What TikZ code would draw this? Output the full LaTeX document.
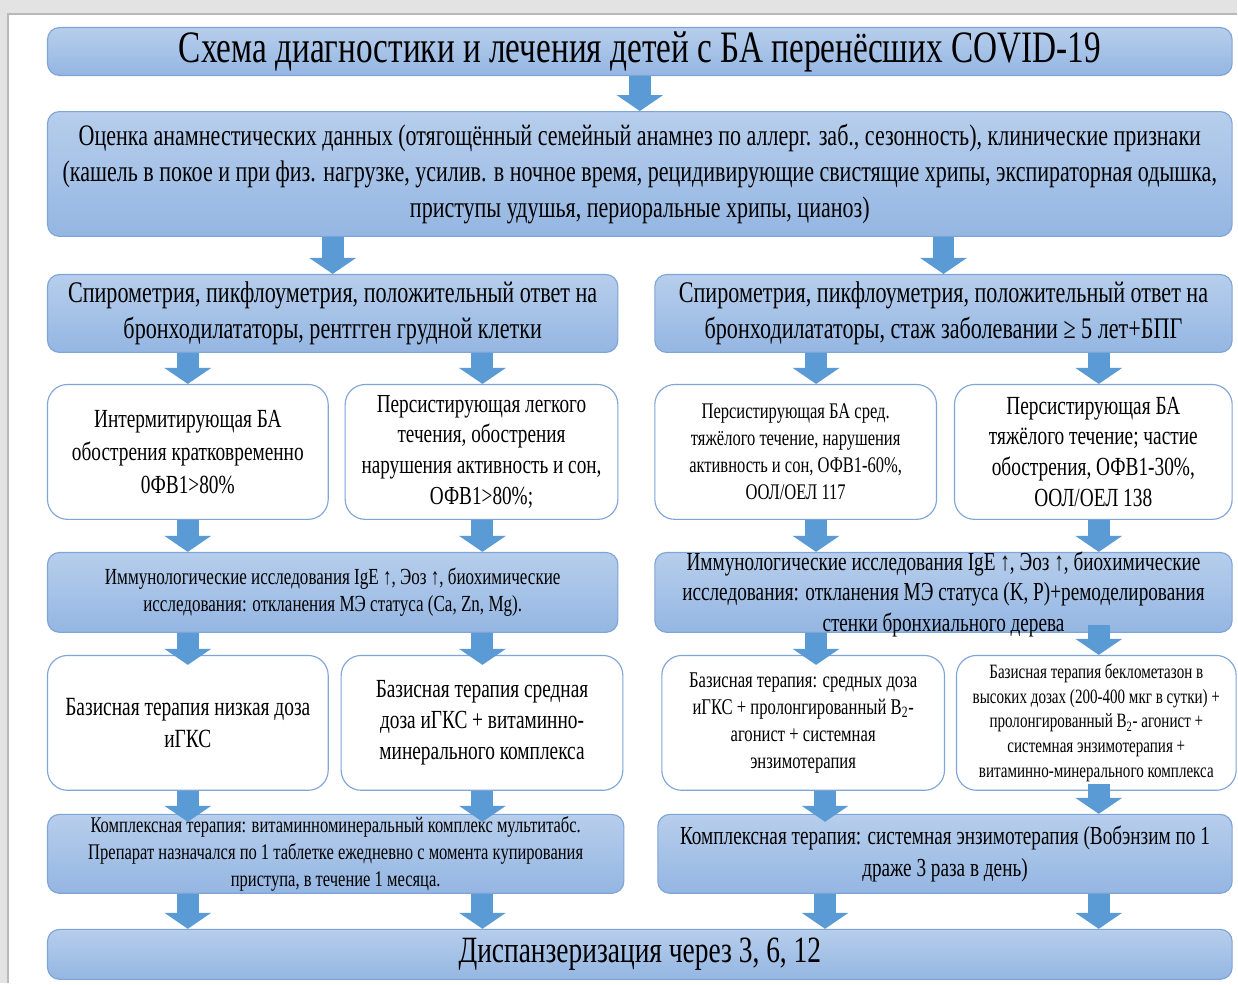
\documentclass[tikz,border=0pt]{standalone}
\usepackage{fontspec}
\setmainfont{Liberation Serif}[FakeStretch=0.74]
\usetikzlibrary{positioning,arrows.meta}

\definecolor{boxtop}{HTML}{B7CEEC}
\definecolor{boxbot}{HTML}{94B6E2}
\definecolor{boxline}{HTML}{7FA4D7}
\definecolor{arrowblue}{HTML}{5B9BD5}
\newcommand{\fsz}[2]{\fontsize{#1}{#2}\selectfont}

\begin{document}
\begin{tikzpicture}[
bluebox/.style={rectangle, draw=boxline, line width=0.8pt, top color=boxtop, bottom color=boxbot, rounded corners=0.3cm, align=center, inner sep=0pt},
whitebox/.style={rectangle, draw=boxline, line width=0.8pt, fill=white, rounded corners=0.5cm, align=center, inner sep=0pt},
blockarrow/.style={draw=arrowblue, line width=0.55cm, -{Triangle[width=1.15cm, length=0.4cm]}}
]
% page and its shadow
\fill[gray!22] (0,0) rectangle (30.95,-24.6);
\fill[white] (0.2,-0.35) rectangle (30.95,-24.6);
\draw[gray!55, line width=2pt] (0.2,-24.6) -- (0.2,-0.35) -- (30.95,-0.35);
\useasboundingbox (0,0) rectangle (30.95,-24.6);

% columns of the arrows
\coordinate (colA) at (4.7,0);
\coordinate (colB) at (12.075,0);
\coordinate (colC) at (20.425,0);
\coordinate (colD) at (20.65,0);
\coordinate (colE) at (27.5,0);

\node[bluebox, anchor=north west, minimum width=29.65cm, minimum height=1.2cm, font=\fsz{32}{36}] (title) at (1.175,-0.675) {Схема диагностики и лечения детей с БА перенёсших COVID-19};
\node[bluebox, minimum width=29.65cm, minimum height=3.125cm, font=\fsz{21.2}{25.6}] (anamnez) [below=0.875cm of title] {Оценка анамнестических данных (отягощённый семейный анамнез по аллерг. заб., сезонность), клинические признаки\\(кашель в покое и при физ. нагрузке, усилив. в ночное время, рецидивирующие свистящие хрипы, экспираторная одышка,\\приступы удушья, периоральные хрипы, цианоз)};

\node[bluebox, minimum width=14.275cm, minimum height=1.95cm, font=\fsz{21.3}{25.6}] (spiroL) [below=0.925cm of anamnez.south west, anchor=north west] {Спирометрия, пикфлоуметрия, положительный ответ на\\бронходилататоры, рентгген грудной клетки};
\node[bluebox, minimum width=14.45cm, minimum height=1.95cm, font=\fsz{21.3}{25.6}] (spiroR) [below=0.925cm of anamnez.south east, anchor=north east] {Спирометрия, пикфлоуметрия, положительный ответ на\\бронходилататоры, стаж заболевании ≥ 5 лет+БПГ};

\node[whitebox, minimum width=7.025cm, minimum height=3.375cm, font=\fsz{18.6}{23.5}] (intL) [below=0.775cm of spiroL.south west, anchor=north west] {Интермитирующая БА\\обострения кратковременно\\0ФВ1>80\%};
\node[whitebox, minimum width=6.825cm, minimum height=3.375cm, font=\fsz{18.5}{22}] (perL) [below=0.775cm of spiroL.south east, anchor=north east] {Персистирующая легкого\\течения, обострения\\нарушения активность и сон,\\ОФВ1>80\%;};
\node[whitebox, minimum width=7.05cm, minimum height=3.375cm, font=\fsz{15.9}{19.2}] (perR1) [below=0.775cm of spiroR.south west, anchor=north west] {Персистирующая БА сред.\\тяжёлого течение, нарушения\\активность и сон, ОФВ1-60\%,\\ООЛ/ОЕЛ 117};
\node[whitebox, minimum width=6.95cm, minimum height=3.375cm, font=\fsz{18.6}{22}] (perR2) [below=0.775cm of spiroR.south east, anchor=north east] {Персистирующая БА\\тяжёлого течение; частие\\обострения, ОФВ1-30\%,\\ООЛ/ОЕЛ 138};

\node[bluebox, minimum width=14.275cm, minimum height=2cm, font=\fsz{16.4}{19.2}] (immL) [below=0.8cm of intL.south west, anchor=north west] {Иммунологические исследования IgE ↑, Эоз ↑, биохимические\\исследования: откланения МЭ статуса (Ca, Zn, Mg).};
\node[bluebox, minimum width=14.45cm, minimum height=2cm] (immR) [below=0.8cm of perR2.south east, anchor=north east] {};
\node[font=\fsz{18.5}{22}, align=center, inner sep=0pt] (immRtext) [yshift=-0.05cm] at (immR) {Иммунологические исследования IgE ↑, Эоз ↑, биохимические\\исследования: откланения МЭ статуса (K, P)+ремоделирования\\стенки бронхиального дерева};

\node[whitebox, minimum width=7.025cm, minimum height=3.375cm, font=\fsz{18.7}{22.8}] (basL1) [below=0.55cm of immL.south west, anchor=north west] {Базисная терапия низкая доза\\иГКС};
\node[whitebox, minimum width=7.05cm, minimum height=3.375cm, font=\fsz{18.6}{22}] (basL2) [below=0.55cm of immL.south east, anchor=north east, xshift=0.125cm] {Базисная терапия средная\\доза иГКС + витаминно-\\минерального комплекса};
\node[whitebox, minimum width=7.075cm, minimum height=3.375cm, font=\fsz{16}{19.2}] (basR1) [below=0.55cm of immR.south west, anchor=north west, xshift=0.175cm] {Базисная терапия: средных доза\\иГКС + пролонгированный B\textsubscript{2}-\\агонист + системная\\энзимотерапия};
\node[whitebox, minimum width=7cm, minimum height=3.375cm, font=\fsz{14.5}{17.8}] (basR2) [below=0.55cm of immR.south east, anchor=north east, xshift=0.1cm] {Базисная терапия беклометазон в\\высоких дозах (200-400 мкг в сутки) +\\пролонгированный B\textsubscript{2}- агонист +\\системная энзимотерапия +\\витаминно-минерального комплекса};

\node[bluebox, minimum width=14.425cm, minimum height=1.975cm, font=\fsz{15.9}{19.2}] (kompL) [below=0.575cm of basL1.south west, anchor=north west] {Комплексная терапия: витаминноминеральный комплекс мультитабс.\\Препарат назначался по 1 таблетке ежедневно с момента купирования\\приступа, в течение 1 месяца.};
\node[bluebox, minimum width=14.375cm, minimum height=1.975cm, font=\fsz{18.5}{22.8}] (kompR) [below=0.575cm of basR2.south east, anchor=north east, xshift=-0.1cm] {Комплексная терапия: системная энзимотерапия (Вобэнзим по 1\\драже 3 раза в день)};

\node[bluebox, minimum width=29.65cm, minimum height=1.25cm, font=\fsz{26.4}{28}] (disp) [below=0.875cm of kompL.south west, anchor=north west] {Диспанзеризация через 3, 6, 12};

% block arrows
\draw[blockarrow] (title) -- (anamnez);
\draw[blockarrow] (anamnez.south -| spiroL) -- (spiroL.north);
\draw[blockarrow] (anamnez.south -| spiroR) -- (spiroR.north);
\draw[blockarrow] (spiroL.south -| colA) -- (intL.north -| colA);
\draw[blockarrow] (spiroL.south -| colB) -- (perL.north -| colB);
\draw[blockarrow] (spiroR.south -| colC) -- (perR1.north -| colC);
\draw[blockarrow] (spiroR.south -| colE) -- (perR2.north -| colE);
\draw[blockarrow] (intL.south -| colA) -- (immL.north -| colA);
\draw[blockarrow] (perL.south -| colB) -- (immL.north -| colB);
\draw[blockarrow] (perR1.south -| colC) -- (immR.north -| colC);
\draw[blockarrow] (perR2.south -| colE) -- (immR.north -| colE);
\draw[blockarrow, shorten >=-0.25cm] (immL.south -| colA) -- (basL1.north -| colA);
\draw[blockarrow, shorten >=-0.25cm] (immL.south -| colB) -- (basL2.north -| colB);
\draw[blockarrow, shorten >=-0.25cm] (immR.south -| colC) -- (basR1.north -| colC);
\draw[blockarrow] ([yshift=0.2cm]immR.south -| colE) -- (basR2.north -| colE);
\draw[blockarrow, shorten >=-0.2cm] (basL1.south -| colA) -- (kompL.north -| colA);
\draw[blockarrow, shorten >=-0.2cm] (basL2.south -| colB) -- (kompL.north -| colB);
\draw[blockarrow, shorten >=-0.2cm] (basR1.south -| colD) -- (kompR.north -| colD);
\draw[blockarrow] ([yshift=0.175cm]basR2.south -| colE) -- (kompR.north -| colE);
\draw[blockarrow] (kompL.south -| colA) -- (disp.north -| colA);
\draw[blockarrow] (kompL.south -| colB) -- (disp.north -| colB);
\draw[blockarrow] (kompR.south -| colD) -- (disp.north -| colD);
\draw[blockarrow] (kompR.south -| colE) -- (disp.north -| colE);
\end{tikzpicture}
\end{document}
